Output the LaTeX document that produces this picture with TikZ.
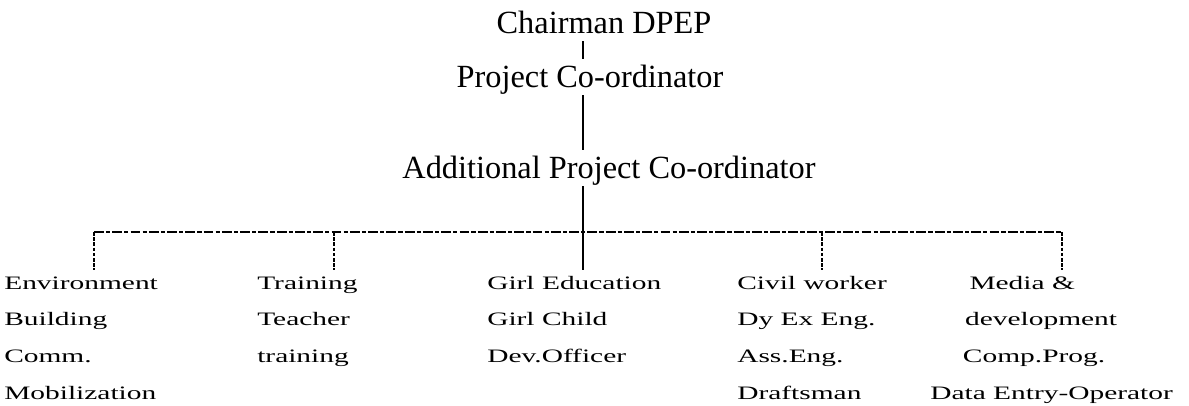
\documentclass[tikz,border=0pt]{standalone}
\usepackage{fontspec}
\setmainfont{Liberation Serif}
\usepackage{graphicx}
\usetikzlibrary{calc}

% wide, loosely spaced column of posts under the bar
\newcommand{\postcol}[1]{\scalebox{1.55}[1]{\begin{tabular}[t]{@{}l@{}}#1\end{tabular}}}

\begin{document}
\begin{tikzpicture}[
    head/.style  ={font=\fontsize{23}{27}\selectfont, inner xsep=0pt, inner ysep=0.15cm,
                   text height=0.54cm, text depth=0.05cm, anchor=base},
    post/.style  ={font=\fontsize{13.5}{26.3}\selectfont, inner sep=0pt,
                   outer ysep=-4.9pt, anchor=base west},
    link/.style  ={line width=1.1pt},
    barline/.style={line width=1pt, dash pattern=on 7pt off 1.5pt on 3pt off 1.5pt},
    tick/.style  ={line width=1pt, dash pattern=on 2.5pt off 1.2pt}
]
\useasboundingbox (0,0) rectangle (29.725,-10.125);

% =================== TOP: chain of command ===================
\node[head] (chair) at (15.1,-0.825)  {Chairman DPEP};
\node[head] (pc)    at (14.75,-2.175) {Project Co-ordinator};
\node[head] (apc)   at (15.225,-4.45) {Additional Project Co-ordinator};

% =================== BAR: branch points ===================
\coordinate (b1) at (2.35,-5.8);
\coordinate (b2) at (8.35,-5.8);
\coordinate (b3) at (14.575,-5.8);
\coordinate (b4) at (20.55,-5.8);
\coordinate (b5) at (26.55,-5.8);

% =================== BOTTOM: sections ===================
\node[post] (env)   at (0.1,-7.225)
    {\postcol{Environment\\Building\\Comm.\\Mobilization}};
\node[post] (trn)   at (6.425,-7.225)
    {\postcol{Training\\Teacher\\training}};
\node[post] (girl)  at (12.175,-7.225)
    {\postcol{Girl Education\\Girl Child\\Dev.Officer}};
\node[post] (civil) at (18.425,-7.225)
    {\postcol{Civil worker\\Dy Ex Eng.\\Ass.Eng.\\Draftsman}};
\node[post] (media) at (23.25,-7.225)
    {\postcol{\hspace*{18pt}Media \&\\\hspace*{16pt}development\\\hspace*{15pt}Comp.Prog.\\Data Entry-Operator}};

% --- Lines ---

% Chairman -> PC -> APC (solid)
\draw[link] (chair.south -| b3) -- (pc.north -| b3);
\draw[link] (pc.south -| b3) -- (apc.north -| b3);

% APC straight down to the middle section
\draw[link] (apc.south -| b3) -- (b3 |- girl.north);

% dashed bar across all sections
\draw[barline] (b1) -- (b5);

% drops to the other sections
\draw[tick] (b1) -- (b1 |- env.north);
\draw[tick] (b2) -- (b2 |- trn.north);
\draw[tick] (b4) -- (b4 |- civil.north);
\draw[tick] (b5) -- (b5 |- media.north);

\end{tikzpicture}
\end{document}
